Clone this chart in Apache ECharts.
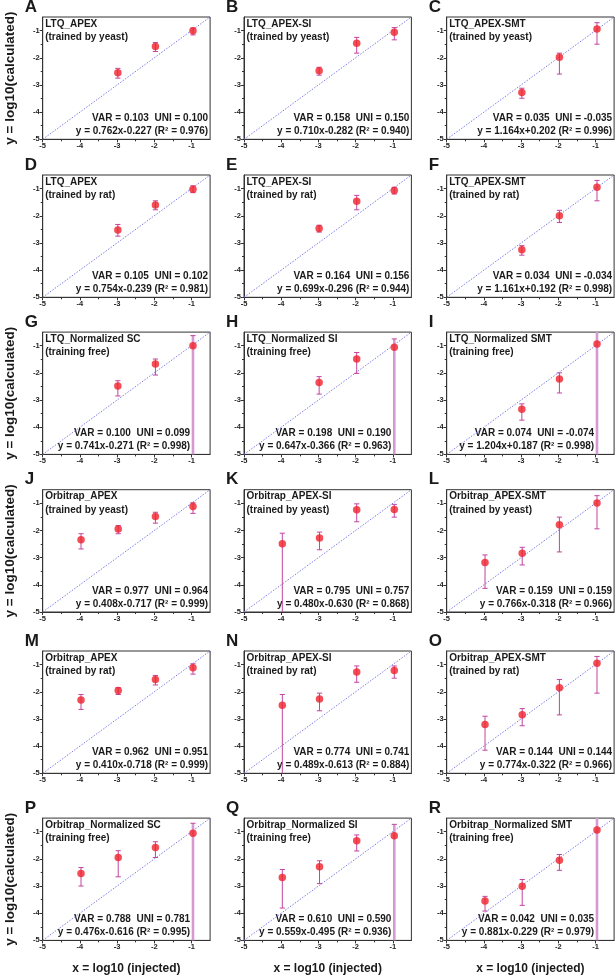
<!DOCTYPE html>
<html><head><meta charset="utf-8">
<script src="https://cdn.jsdelivr.net/npm/echarts@6/dist/echarts.min.js"></script>
<style>html,body{margin:0;padding:0;background:#fff}#c{width:615px;height:978px}</style>
</head><body><div id="c"></div>
<script>
// ---------- data ----------
const letters = ['A','B','C','D','E','F','G','H','I','J','K','L','M','N','O','P','Q','R'];
const titles = ['LTQ_APEX','LTQ_APEX-SI','LTQ_APEX-SMT','LTQ_APEX','LTQ_APEX-SI','LTQ_APEX-SMT',
  'LTQ_Normalized SC','LTQ_Normalized SI','LTQ_Normalized SMT',
  'Orbitrap_APEX','Orbitrap_APEX-SI','Orbitrap_APEX-SMT','Orbitrap_APEX','Orbitrap_APEX-SI','Orbitrap_APEX-SMT',
  'Orbitrap_Normalized SC','Orbitrap_Normalized SI','Orbitrap_Normalized SMT'];
const subtitles = ['(trained by yeast)','(trained by yeast)','(trained by yeast)',
  '(trained by rat)','(trained by rat)','(trained by rat)',
  '(training free)','(training free)','(training free)',
  '(trained by yeast)','(trained by yeast)','(trained by yeast)',
  '(trained by rat)','(trained by rat)','(trained by rat)',
  '(training free)','(training free)','(training free)'];
const statText = ['VAR = 0.103  UNI = 0.100','VAR = 0.158  UNI = 0.150','VAR = 0.035  UNI = -0.035',
  'VAR = 0.105  UNI = 0.102','VAR = 0.164  UNI = 0.156','VAR = 0.034  UNI = -0.034',
  'VAR = 0.100  UNI = 0.099','VAR = 0.198  UNI = 0.190','VAR = 0.074  UNI = -0.074',
  'VAR = 0.977  UNI = 0.964','VAR = 0.795  UNI = 0.757','VAR = 0.159  UNI = 0.159',
  'VAR = 0.962  UNI = 0.951','VAR = 0.774  UNI = 0.741','VAR = 0.144  UNI = 0.144',
  'VAR = 0.788  UNI = 0.781','VAR = 0.610  UNI = 0.590','VAR = 0.042  UNI = 0.035'];
const fitText = ['y = 0.762x-0.227 (R² = 0.976)','y = 0.710x-0.282 (R² = 0.940)','y = 1.164x+0.202 (R² = 0.996)',
  'y = 0.754x-0.239 (R² = 0.981)','y = 0.699x-0.296 (R² = 0.944)','y = 1.161x+0.192 (R² = 0.998)',
  'y = 0.741x-0.271 (R² = 0.998)','y = 0.647x-0.366 (R² = 0.963)','y = 1.204x+0.187 (R² = 0.998)',
  'y = 0.408x-0.717 (R² = 0.999)','y = 0.480x-0.630 (R² = 0.868)','y = 0.766x-0.318 (R² = 0.966)',
  'y = 0.410x-0.718 (R² = 0.999)','y = 0.489x-0.613 (R² = 0.884)','y = 0.774x-0.322 (R² = 0.966)',
  'y = 0.476x-0.616 (R² = 0.995)','y = 0.559x-0.495 (R² = 0.936)','y = 0.881x-0.229 (R² = 0.979)'];
const xTicks = [-5,-4,-3,-2,-1];
const yTicks = [-5,-4,-3,-2,-1];
const axisMin = -5, axisMax = -0.5;
const xLTQ = [-2.98,-1.97,-0.96];
const xOrbi = [-3.97,-2.97,-1.97,-0.96];
const NEG_INF = -Infinity; // lower error bound unbounded (log10 of 0)
const means = [
  [-2.55,-1.59,-1.01],[-2.48,-1.47,-1.06],[-3.28,-1.98,-0.94],
  [-2.52,-1.60,-1.02],[-2.47,-1.47,-1.07],[-3.25,-2.00,-0.95],
  [-2.48,-1.67,-1.00],[-2.35,-1.49,-1.06],[-3.34,-2.23,-0.94],
  [-2.34,-1.95,-1.49,-1.12],[-2.49,-2.28,-1.24,-1.23],[-3.18,-2.84,-1.79,-0.99],
  [-2.30,-1.95,-1.55,-1.12],[-2.50,-2.27,-1.27,-1.22],[-3.20,-2.85,-1.85,-0.95],
  [-2.54,-1.95,-1.58,-1.06],[-2.69,-2.29,-1.33,-1.15],[-3.55,-3.01,-2.05,-0.94]];
const lows = [
  [-2.75,-1.77,-1.16],[-2.64,-1.83,-1.34],[-3.49,-2.60,-1.50],
  [-2.75,-1.78,-1.15],[-2.60,-1.78,-1.20],[-3.45,-2.25,-1.45],
  [-2.85,-2.08,NEG_INF],[-2.78,-2.02,NEG_INF],[-3.74,-2.74,NEG_INF],
  [-2.68,-2.12,-1.73,-1.37],[-5.50,-2.71,-1.68,-1.51],[-4.13,-3.27,-2.79,-1.94],
  [-2.65,-2.10,-1.75,-1.35],[-5.50,-2.70,-1.65,-1.50],[-4.15,-3.25,-2.85,-2.05],
  [-3.00,-2.66,-1.95,NEG_INF],[-3.81,-2.91,-1.71,NEG_INF],[-3.92,-3.71,-2.42,NEG_INF]];
const highs = [
  [-2.39,-1.44,-0.91],[-2.35,-1.25,-0.89],[-3.12,-1.83,-0.71],
  [-2.32,-1.45,-0.90],[-2.35,-1.25,-0.95],[-3.10,-1.80,-0.70],
  [-2.29,-1.49,-0.63],[-2.14,-1.25,-0.75],[-3.14,-2.00,-0.30],
  [-2.12,-1.82,-1.33,-0.98],[-2.10,-2.06,-1.02,-1.04],[-2.90,-2.62,-1.51,-0.72],
  [-2.10,-1.85,-1.40,-0.97],[-2.10,-2.05,-1.05,-1.05],[-2.90,-2.62,-1.55,-0.70],
  [-2.32,-1.70,-1.37,-0.69],[-2.39,-2.07,-1.12,-0.73],[-3.38,-2.76,-1.84,-0.30]];
const yTitle = 'y = log10(calculated)';
const xTitle = 'x = log10 (injected)';

// ---------- layout ----------
const FONT = '"Liberation Sans", Arial, sans-serif';
const colLeft = [42.7, 244, 446.7];
const plotW = 167.4;
const rowTop = [17, 175, 332.1, 489.7, 651, 818.1];
const plotH = 122.3;
const yTitleRows = [0, 2, 3, 5];

const chart = echarts.init(document.getElementById('c'), null, {renderer: 'canvas'});
const grids = [], xAxes = [], yAxes = [], series = [], graphics = [];

function renderErr(params, api) {
  const x = api.value(0), lo = api.value(1), hi = api.value(2);
  const unbounded = !isFinite(lo);
  const loC = Math.max(lo, axisMin), hiC = Math.min(hi, axisMax);
  const p1 = api.coord([x, hiC]), p2 = api.coord([x, loC]);
  const col = unbounded ? '#d69ad3' : '#c2459f';
  const ch = [{type: 'line', shape: {x1: p1[0], y1: p1[1], x2: p2[0], y2: p2[1]},
    style: {stroke: col, lineWidth: unbounded ? 2.6 : 1}}];
  const cw = 2.6;
  if (hi <= axisMax) ch.push({type: 'line', shape: {x1: p1[0]-cw, y1: p1[1], x2: p1[0]+cw, y2: p1[1]}, style: {stroke: '#c2459f', lineWidth: 1}});
  if (isFinite(lo) && lo >= axisMin) ch.push({type: 'line', shape: {x1: p2[0]-cw, y1: p2[1], x2: p2[0]+cw, y2: p2[1]}, style: {stroke: '#c2459f', lineWidth: 1}});
  return {type: 'group', children: ch};
}

function axisCommon(i, ticks) {
  return {
    gridIndex: i, type: 'value', min: axisMin, max: axisMax, interval: 1,
    axisLine: {show: true, onZero: false, lineStyle: {color: '#333', width: 1}},
    axisTick: {show: true, inside: false, length: 3, lineStyle: {color: '#333', width: 1},
      customValues: ticks},
    minorTick: {show: true, splitNumber: 2, length: 2, lineStyle: {color: '#333', width: 1}},
    axisLabel: {show: true, fontSize: 7.5, fontWeight: 'bold', color: '#222', fontFamily: FONT, margin: 3,
      customValues: ticks},
    splitLine: {show: false}, minorSplitLine: {show: false}
  };
}

for (let i = 0; i < 18; i++) {
  const r = Math.floor(i / 3), c = i % 3;
  const L = colLeft[c], T = rowTop[r];
  grids.push({left: L, top: T, width: plotW, height: plotH, show: true, borderColor: '#333', borderWidth: 1, backgroundColor: 'transparent'});
  xAxes.push(Object.assign(axisCommon(i, xTicks), {position: 'bottom'}));
  yAxes.push(Object.assign(axisCommon(i, yTicks), {position: 'left'}));
  const xs = means[i].length === 3 ? xLTQ : xOrbi;
  series.push({type: 'line', xAxisIndex: i, yAxisIndex: i, silent: true, symbol: 'none', z: 1,
    data: [[axisMin, axisMin], [axisMax, axisMax]],
    lineStyle: {color: '#7c7ce6', width: 1, type: [1.5, 1.5]}});
  series.push({type: 'custom', xAxisIndex: i, yAxisIndex: i, silent: true, z: 2,
    renderItem: renderErr, encode: {x: 0, y: [1, 2]},
    data: xs.map((x, k) => [x, lows[i][k], highs[i][k]])});
  series.push({type: 'scatter', xAxisIndex: i, yAxisIndex: i, silent: true, z: 3,
    symbol: 'circle', symbolSize: 7.5, itemStyle: {color: '#f0222c'},
    data: xs.map((x, k) => [x, means[i][k]])});

  const txt = (x, y, text, size, align, extra) => graphics.push(Object.assign({
    type: 'text', x: x, y: y, silent: true,
    style: {text: text, fontSize: size, fontWeight: 'bold', fontFamily: FONT, fill: '#1a1a1a',
      align: align, textAlign: align, verticalAlign: 'middle', textVerticalAlign: 'middle'}}, extra || {}));
  txt(L - 18, T - 10, letters[i], 17, 'left');
  txt(L + 2.5, T + 7, titles[i], 10, 'left');
  txt(L + 2.5, T + 20.5, subtitles[i], 10, 'left');
  const rightPad = (r === 2 || r === 5) ? 20 : 2;
  txt(L + plotW - rightPad, T + plotH - 21, statText[i], 10, 'right');
  txt(L + plotW - rightPad, T + plotH - 8, fitText[i], 10, 'right');
}
yTitleRows.forEach(r => {
  graphics.push({type: 'text', x: 10, y: rowTop[r] + plotH / 2, rotation: Math.PI / 2, silent: true,
    style: {text: yTitle, fontSize: 13.5, fontWeight: 'bold', fontFamily: FONT, fill: '#1a1a1a',
      align: 'center', textAlign: 'center', verticalAlign: 'middle', textVerticalAlign: 'middle'}});
});
colLeft.forEach(L => {
  graphics.push({type: 'text', x: L + plotW / 2, y: 969, silent: true,
    style: {text: xTitle, fontSize: 12, fontWeight: 'bold', fontFamily: FONT, fill: '#1a1a1a',
      align: 'center', textAlign: 'center', verticalAlign: 'middle', textVerticalAlign: 'middle'}});
});

chart.setOption({
  animation: false, backgroundColor: '#fff',
  grid: grids, xAxis: xAxes, yAxis: yAxes, series: series,
  graphic: {elements: graphics}
});
</script></body></html>
